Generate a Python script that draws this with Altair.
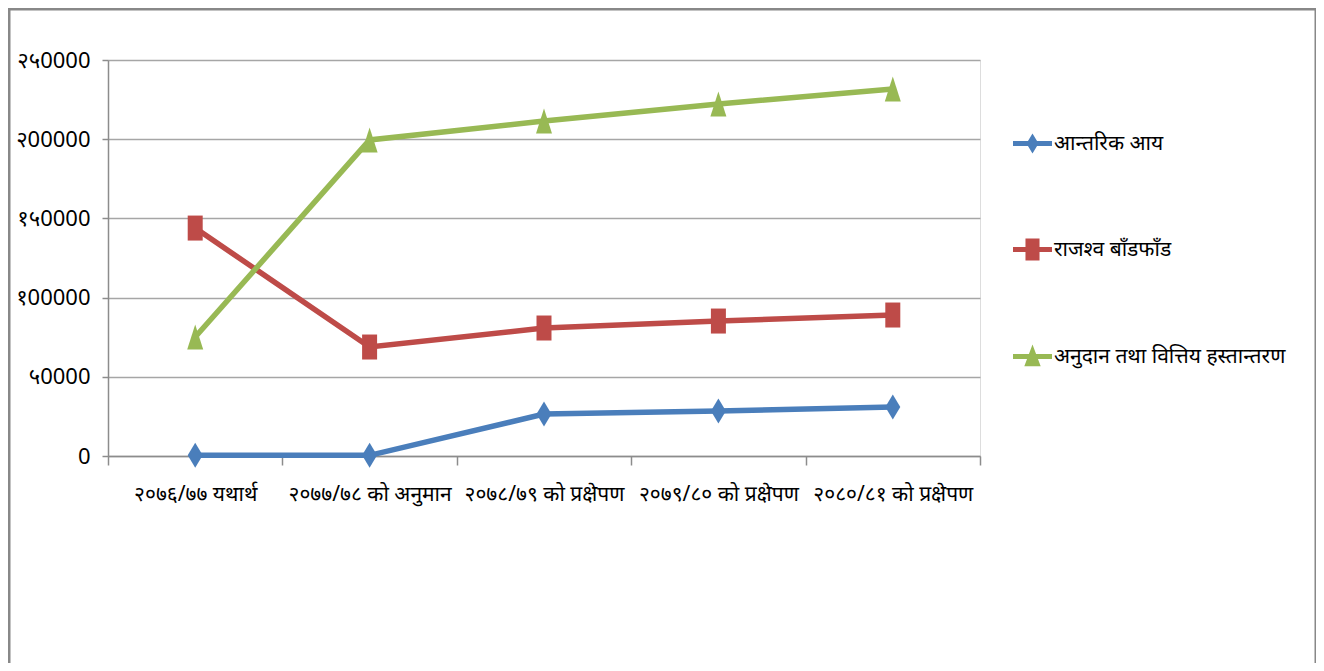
import altair as alt
import pandas as pd

categories = ["२०७६/७७ यथार्थ", "२०७७/७८ को अनुमान", "२०७८/७९ को प्रक्षेपण",
              "२०७९/८० को प्रक्षेपण", "२०८०/८१ को प्रक्षेपण"]
series_names = ["आन्तरिक आय", "राजश्व बाँडफाँड", "अनुदान तथा वित्तिय हस्तान्तरण"]
internal_income = [400, 400, 26500, 28400, 31000]
revenue_sharing = [143900, 68800, 80800, 85200, 89000]
grants_transfer = [75100, 199500, 211500, 222200, 231700]
y_ticks = [0, 50000, 100000, 150000, 200000, 250000]
y_tick_labels = ["0", "५0000", "१00000", "१५0000", "२00000", "२५0000"]
colors = ["#4A7EBB", "#BE4B48", "#98B954"]

rows = []
for name, vals in zip(series_names, [internal_income, revenue_sharing, grants_transfer]):
    for c, v in zip(categories, vals):
        rows.append({"cat": c, "series": name, "value": v})
df = pd.DataFrame(rows)

FONT = "Noto Sans, DejaVu Sans, sans-serif"

label_expr = "''"
for t, l in zip(y_ticks, y_tick_labels):
    label_expr = f"datum.value == {t} ? '{l}' : ({label_expr})"

point_paths = [
    "M0,-1L0.6,0L0,1L-0.6,0Z",
    "M-0.6,-1H0.6V1H-0.6Z",
    "M0,-1L0.64,1H-0.64Z",
]
legend_paths = [
    "M-1,-0.13H1V0.13H-1Z M0,-0.51L0.31,0L0,0.51L-0.31,0Z",
    "M-1,-0.13H1V0.13H-1Z M-0.36,-0.56H0.36V0.56H-0.36Z",
    "M-1,-0.13H1V0.13H-1Z M0,-0.62L0.42,0.5H-0.42Z",
]

x_enc = alt.X("cat:N", sort=categories, title=None,
              scale=alt.Scale(paddingInner=0, paddingOuter=0),
              axis=alt.Axis(labelAngle=0, labelFontSize=21, labelColor="#000000",
                            labelFont=FONT, labelPadding=18, tickSize=9,
                            tickBand="extent", labelLimit=200,
                            tickColor="#8c8c8c", domainColor="#8c8c8c",
                            tickWidth=1.5, domainWidth=1.5, grid=False))
y_enc = alt.Y("value:Q", title=None,
              scale=alt.Scale(domain=[0, 250000], nice=False),
              axis=alt.Axis(values=y_ticks, labelExpr=label_expr, labelFontSize=22,
                            labelFont=FONT, labelColor="#000000", labelPadding=12,
                            tickSize=6, tickColor="#8c8c8c", domain=True,
                            domainColor="#8c8c8c",
                            tickWidth=1.5, domainWidth=1.5,
                            grid=True, gridColor="#a6a6a6", gridWidth=1.5))
color_scale = alt.Scale(domain=series_names, range=colors)

leg = alt.Legend(orient="none", legendX=905, legendY=64,
                 symbolSize=1521, labelFontSize=21,
                 labelFont=FONT, labelColor="#000000",
                 rowPadding=76, labelOffset=2, labelLimit=400,
                 symbolStrokeWidth=0, symbolOpacity=1)

color_enc = alt.Color("series:N", scale=color_scale, title=None, legend=leg)

legend_layer = alt.Chart(df).transform_filter("false").mark_point(
    filled=True, opacity=1, size=1521).encode(
    x=x_enc, y=y_enc,
    color=color_enc,
    shape=alt.Shape("series:N", title=None,
                    scale=alt.Scale(domain=series_names, range=legend_paths),
                    legend=leg),
)

lines = alt.Chart(df).mark_line(strokeWidth=5.5).encode(
    x=x_enc, y=y_enc, color=color_enc, detail="series:N",
)

point_layers = []
for name, path in zip(series_names, point_paths):
    point_layers.append(
        alt.Chart(df).transform_filter(alt.datum.series == name).mark_point(
            filled=True, opacity=1, size=625, shape=path).encode(
            x=x_enc, y=y_enc, color=color_enc)
    )

frame = alt.Chart(pd.DataFrame({"k": [0]})).mark_rect(
    fill=None, stroke="#888888", strokeWidth=3).encode(
    x=alt.value(-99), x2=alt.value(1208), y=alt.value(-51), y2=alt.value(700))

chart = alt.layer(frame, legend_layer, lines, *point_layers).properties(
    width=872, height=396,
    padding={"left": 100, "top": 52, "right": 336, "bottom": 207},
    autosize=alt.AutoSizeParams(type="none"),
).configure_view(stroke=None).configure(font=FONT)

chart.save("out.html", embed_options={"renderer": "svg", "actions": False})
